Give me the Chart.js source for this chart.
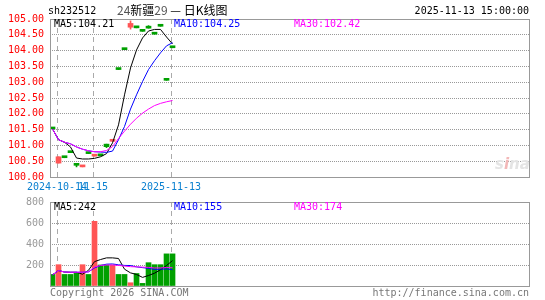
<!DOCTYPE html>
<html>
<head>
<meta charset="utf-8">
<script src="https://cdn.jsdelivr.net/npm/chart.js@4/dist/chart.umd.min.js"></script>
<style>
  html, body { margin:0; padding:0; background:#fff; }
  #wrap { position:relative; width:545px; height:300px; overflow:hidden;
          font-family:"DejaVu Sans Mono","Liberation Mono",monospace; font-size:10px; }
  #wrap canvas { position:absolute; left:0; }
  .t { position:absolute; white-space:nowrap; line-height:12px; }
</style>
</head>
<body>
<div id="wrap">
  <canvas id="kline" width="545" height="192" style="top:0"></canvas>
  <canvas id="vol" width="545" height="110" style="top:190px"></canvas>

  <div class="t" style="left:48px;top:5px;color:#000">sh232512</div>
  <div class="t" style="left:117px;top:3px;font-family:'Noto Sans CJK SC';font-size:12px;line-height:14px;color:#000"><span style="color:#555">24</span>新疆<span style="color:#555">29</span> — 日K线图</div>
  <div class="t" style="right:16px;top:5px;color:#000">2025-11-13 15:00:00</div>

  <div class="t" id="lbMa5" style="left:54px;top:18px;color:#000"></div>
  <div class="t" id="lbMa10" style="left:174px;top:18px;color:#00f"></div>
  <div class="t" id="lbMa30" style="left:294px;top:18px;color:#f0f"></div>

  <div class="t" id="lbVol5" style="left:54px;top:201px;color:#000"></div>
  <div class="t" id="lbVol10" style="left:174px;top:201px;color:#00f"></div>
  <div class="t" id="lbVol30" style="left:294px;top:201px;color:#f0f"></div>

  <div class="t" style="left:495px;top:155px;font-family:'DejaVu Sans';font-style:italic;font-weight:bold;font-size:15px;line-height:18px;color:#e4e4e4">s<span style="color:#f3b8b8">i</span>na</div>

  <div class="t" style="left:50px;top:287px;color:#777">Copyright 2026 SINA.COM</div>
  <div class="t" style="right:16px;top:287px;color:#777">http://finance.sina.com.cn</div>
</div>

<script>
// daily candles, 21 trading days (index = trading day)
const opens  = [101.56,100.44,100.64,100.80,100.40,100.32,100.77,100.66,100.70,101.04,101.13,103.43,104.06,104.74,104.75,104.64,104.74,104.55,104.80,103.09,104.12];
const closes = [101.52,100.64,100.61,100.77,100.37,100.35,100.74,100.69,100.67,100.96,101.16,103.40,104.03,104.86,104.72,104.61,104.71,104.52,104.77,103.06,104.09];
const highs  = [101.56,100.64,100.64,100.80,100.40,100.35,100.77,100.69,100.70,101.04,101.16,103.43,104.06,104.94,104.75,104.64,104.79,104.55,104.80,103.09,104.12];
const lows   = [101.52,100.44,100.61,100.77,100.32,100.32,100.74,100.66,100.67,100.93,101.13,103.40,104.03,104.68,104.72,104.61,104.71,104.52,104.77,103.06,104.09];

const ma5  = [101.52,101.18,101.10,100.95,100.60,100.57,100.57,100.59,100.64,100.74,101.08,101.65,102.60,103.45,104.02,104.40,104.62,104.67,104.67,104.43,104.21];
const ma10 = [101.52,101.18,101.10,101.05,100.95,100.88,100.83,100.80,100.79,100.78,100.82,101.18,101.60,102.15,102.60,103.02,103.40,103.68,103.93,104.15,104.25];
const ma30 = [101.52,101.18,101.10,101.05,100.95,100.88,100.83,100.80,100.80,100.84,100.96,101.22,101.45,101.67,101.86,102.02,102.15,102.26,102.33,102.38,102.42];

const volumes = [110,203,110,110,125,203,110,616,200,200,200,110,110,31,119,25,222,203,203,306,306];
const volMa5  = [106,147,133,131,131,112,150,232,252,268,268,262,160,125,110,82,100,122,155,195,242];
const volMa10 = [106,147,133,131,131,131,135,172,195,208,210,202,196,195,182,175,168,158,160,163,155];
const volMa30 = [106,147,133,131,131,131,135,180,196,200,200,196,190,184,182,180,177,172,172,176,174];

const priceTicks = [100,100.5,101,101.5,102,102.5,103,103.5,104,104.5,105];
const volTicks = [0,200,400,600,800];
const dateLabels = ['2024-10-14','11-15','2025-11-13'];
const dateIdx = [1, 7, 20];

const MONO = '"DejaVu Sans Mono","Liberation Mono",monospace';
const RED = '#ff5555', GREEN = '#00a000';
const SLOTS = 80, X_MIN = -0.42, GRID_SHIFT = 0.25;

const candleColors = closes.map((c, i) => c > opens[i] ? RED : GREEN);
const pts = arr => arr.map((v, i) => ({ x: i, y: v }));
const last = arr => arr[arr.length - 1];

document.getElementById('lbMa5').textContent  = 'MA5:' + last(ma5).toFixed(2);
document.getElementById('lbMa10').textContent = 'MA10:' + last(ma10).toFixed(2);
document.getElementById('lbMa30').textContent = 'MA30:' + last(ma30).toFixed(2);
document.getElementById('lbVol5').textContent  = 'MA5:' + last(volMa5);
document.getElementById('lbVol10').textContent = 'MA10:' + last(volMa10);
document.getElementById('lbVol30').textContent = 'MA30:' + last(volMa30);

// grey box round the plot area
const framePlugin = {
  id: 'frame',
  afterDraw(chart){
    const a = chart.chartArea, ctx = chart.ctx;
    ctx.save();
    ctx.strokeStyle = '#999';
    ctx.lineWidth = 1;
    ctx.strokeRect(Math.round(a.left) + 0.5, Math.round(a.top) + 0.5, Math.round(a.right - a.left) - 1, Math.round(a.bottom - a.top));
    ctx.restore();
  }
};

function maLine(label, data, color, order){
  return { type:'line', label, data: pts(data), borderColor: color, borderWidth: 1,
           pointRadius: 0, tension: 0, fill: false, order };
}

function xScale(showLabels){
  return {
    type: 'linear', min: X_MIN, max: X_MIN + SLOTS, offset: false,
    afterBuildTicks: s => { s.ticks = dateIdx.map(v => ({ value: v - GRID_SHIFT })); },
    afterFit: s => { s.height = showLabels ? 15 : 0; },
    ticks: { display: showLabels, autoSkip: false, maxRotation: 0, minRotation: 0, padding: 4,
             color: '#0a80d0', font: { family: MONO, size: 10 },
             callback: (v, i) => dateLabels[i] },
    grid: { color: '#aaa', lineWidth: 1, drawTicks: false, offset: false },
    border: { display: false, dash: [5, 4] }
  };
}

const common = {
  responsive: false, animation: false, devicePixelRatio: 1,
  plugins: { legend: { display: false }, tooltip: { enabled: false } }
};

// price (K-line) panel
new Chart(document.getElementById('kline'), {
  data: { datasets: [
    maLine('MA30', ma30, '#ff00ff', 1),
    maLine('MA10', ma10, '#0000ff', 2),
    maLine('MA5',  ma5,  '#000000', 3),
    { type:'bar', label:'body', data: opens.map((o, i) => ({ x: i, y: [o, closes[i]] })),
      backgroundColor: candleColors, barThickness: 5, minBarLength: 2, grouped: false, order: 4 },
    { type:'bar', label:'wick', data: lows.map((l, i) => ({ x: i, y: [l, highs[i]] })),
      backgroundColor: candleColors, barThickness: 1, grouped: false, order: 5 }
  ]},
  options: Object.assign({}, common, {
    layout: { padding: { left: 0, right: 15, top: 19, bottom: 0 } },
    scales: {
      x: xScale(true),
      y: {
        min: 100, max: 105,
        afterBuildTicks: s => { s.ticks = priceTicks.map(v => ({ value: v })); },
        afterFit: s => { s.width = 50; },
        ticks: { color: '#ff0000', font: { family: MONO, size: 10 }, padding: 6,
                 callback: v => Number(v).toFixed(2) },
        grid: { color: '#999', drawTicks: false },
        border: { display: false, dash: [1, 1] }
      }
    }
  }),
  plugins: [framePlugin]
});

// volume panel
new Chart(document.getElementById('vol'), {
  data: { datasets: [
    maLine('MA30', volMa30, '#ff00ff', 1),
    maLine('MA10', volMa10, '#0000ff', 2),
    maLine('MA5',  volMa5,  '#000000', 3),
    { type:'bar', label:'vol', data: volumes.map((v, i) => ({ x: i, y: v })),
      backgroundColor: candleColors, barThickness: 5, grouped: false, order: 4 }
  ]},
  options: Object.assign({}, common, {
    layout: { padding: { left: 0, right: 15, top: 12, bottom: 14 } },
    scales: {
      x: xScale(false),
      y: {
        min: 0, max: 800,
        afterBuildTicks: s => { s.ticks = volTicks.map(v => ({ value: v })); },
        afterFit: s => { s.width = 50; },
        ticks: { color: '#999', font: { family: MONO, size: 10 }, padding: 6,
                 callback: v => v === 0 ? '' : String(v) },
        grid: { color: '#999', drawTicks: false },
        border: { display: false, dash: [1, 1] }
      }
    }
  }),
  plugins: [framePlugin]
});
</script>
</body>
</html>
